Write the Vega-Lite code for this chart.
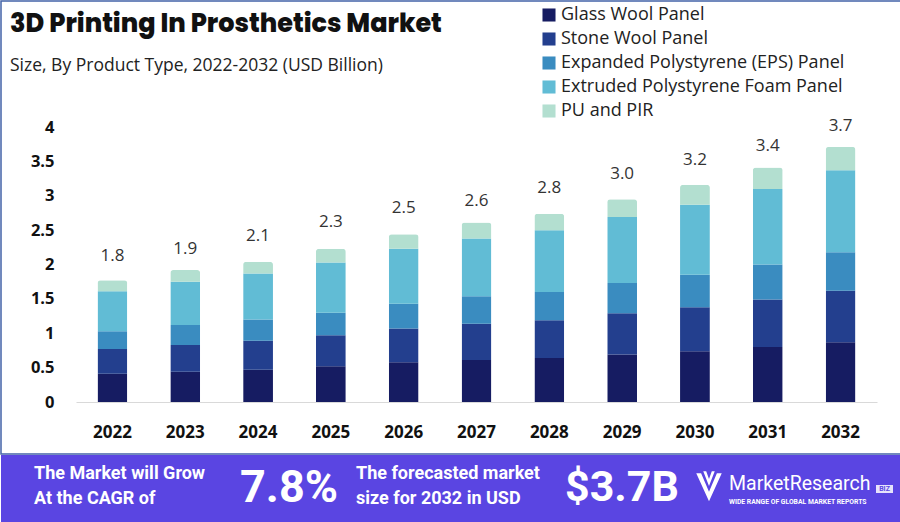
{
  "$schema": "https://vega.github.io/schema/vega-lite/v6.json",
  "padding": 0,
  "spacing": 0,
  "background": "white",
  "config": {"view": {"stroke": null}, "axis": {"grid": false}},
  "datasets": {
    "segments": [
      {"year": "2022", "type": "Glass Wool Panel", "value": 0.41},
      {"year": "2022", "type": "Stone Wool Panel", "value": 0.36},
      {"year": "2022", "type": "Expanded Polystyrene (EPS) Panel", "value": 0.26},
      {"year": "2022", "type": "Extruded Polystyrene Foam Panel", "value": 0.58},
      {"year": "2022", "type": "PU and PIR", "value": 0.16},
      {"year": "2023", "type": "Glass Wool Panel", "value": 0.44},
      {"year": "2023", "type": "Stone Wool Panel", "value": 0.39},
      {"year": "2023", "type": "Expanded Polystyrene (EPS) Panel", "value": 0.29},
      {"year": "2023", "type": "Extruded Polystyrene Foam Panel", "value": 0.63},
      {"year": "2023", "type": "PU and PIR", "value": 0.17},
      {"year": "2024", "type": "Glass Wool Panel", "value": 0.47},
      {"year": "2024", "type": "Stone Wool Panel", "value": 0.42},
      {"year": "2024", "type": "Expanded Polystyrene (EPS) Panel", "value": 0.31},
      {"year": "2024", "type": "Extruded Polystyrene Foam Panel", "value": 0.67},
      {"year": "2024", "type": "PU and PIR", "value": 0.17},
      {"year": "2025", "type": "Glass Wool Panel", "value": 0.52},
      {"year": "2025", "type": "Stone Wool Panel", "value": 0.45},
      {"year": "2025", "type": "Expanded Polystyrene (EPS) Panel", "value": 0.33},
      {"year": "2025", "type": "Extruded Polystyrene Foam Panel", "value": 0.73},
      {"year": "2025", "type": "PU and PIR", "value": 0.20},
      {"year": "2026", "type": "Glass Wool Panel", "value": 0.58},
      {"year": "2026", "type": "Stone Wool Panel", "value": 0.49},
      {"year": "2026", "type": "Expanded Polystyrene (EPS) Panel", "value": 0.36},
      {"year": "2026", "type": "Extruded Polystyrene Foam Panel", "value": 0.80},
      {"year": "2026", "type": "PU and PIR", "value": 0.21},
      {"year": "2027", "type": "Glass Wool Panel", "value": 0.61},
      {"year": "2027", "type": "Stone Wool Panel", "value": 0.53},
      {"year": "2027", "type": "Expanded Polystyrene (EPS) Panel", "value": 0.40},
      {"year": "2027", "type": "Extruded Polystyrene Foam Panel", "value": 0.84},
      {"year": "2027", "type": "PU and PIR", "value": 0.23},
      {"year": "2028", "type": "Glass Wool Panel", "value": 0.64},
      {"year": "2028", "type": "Stone Wool Panel", "value": 0.55},
      {"year": "2028", "type": "Expanded Polystyrene (EPS) Panel", "value": 0.41},
      {"year": "2028", "type": "Extruded Polystyrene Foam Panel", "value": 0.90},
      {"year": "2028", "type": "PU and PIR", "value": 0.24},
      {"year": "2029", "type": "Glass Wool Panel", "value": 0.69},
      {"year": "2029", "type": "Stone Wool Panel", "value": 0.60},
      {"year": "2029", "type": "Expanded Polystyrene (EPS) Panel", "value": 0.44},
      {"year": "2029", "type": "Extruded Polystyrene Foam Panel", "value": 0.96},
      {"year": "2029", "type": "PU and PIR", "value": 0.26},
      {"year": "2030", "type": "Glass Wool Panel", "value": 0.74},
      {"year": "2030", "type": "Stone Wool Panel", "value": 0.64},
      {"year": "2030", "type": "Expanded Polystyrene (EPS) Panel", "value": 0.47},
      {"year": "2030", "type": "Extruded Polystyrene Foam Panel", "value": 1.02},
      {"year": "2030", "type": "PU and PIR", "value": 0.29},
      {"year": "2031", "type": "Glass Wool Panel", "value": 0.80},
      {"year": "2031", "type": "Stone Wool Panel", "value": 0.69},
      {"year": "2031", "type": "Expanded Polystyrene (EPS) Panel", "value": 0.51},
      {"year": "2031", "type": "Extruded Polystyrene Foam Panel", "value": 1.10},
      {"year": "2031", "type": "PU and PIR", "value": 0.31},
      {"year": "2032", "type": "Glass Wool Panel", "value": 0.87},
      {"year": "2032", "type": "Stone Wool Panel", "value": 0.75},
      {"year": "2032", "type": "Expanded Polystyrene (EPS) Panel", "value": 0.56},
      {"year": "2032", "type": "Extruded Polystyrene Foam Panel", "value": 1.19},
      {"year": "2032", "type": "PU and PIR", "value": 0.34}
    ],
    "totals": [
      {"year": "2022", "total": 1.8, "label": "1.8"},
      {"year": "2023", "total": 1.9, "label": "1.9"},
      {"year": "2024", "total": 2.1, "label": "2.1"},
      {"year": "2025", "total": 2.3, "label": "2.3"},
      {"year": "2026", "total": 2.5, "label": "2.5"},
      {"year": "2027", "total": 2.6, "label": "2.6"},
      {"year": "2028", "total": 2.8, "label": "2.8"},
      {"year": "2029", "total": 3.0, "label": "3.0"},
      {"year": "2030", "total": 3.2, "label": "3.2"},
      {"year": "2031", "total": 3.4, "label": "3.4"},
      {"year": "2032", "total": 3.7, "label": "3.7"}
    ]
  },
  "vconcat": [
    {
      "width": 900,
      "height": 453,
      "view": {"stroke": "#4363a8", "strokeWidth": 1.5, "fill": "white"},
      "title": {
        "text": "3D Printing In Prosthetics Market",
        "subtitle": "Size, By Product Type, 2022-2032 (USD Billion)",
        "anchor": "start",
        "frame": "group",
        "offset": -73,
        "dx": 9,
        "font": "Poppins, Open Sans",
        "fontSize": 25.5,
        "fontWeight": 800,
        "color": "#111111",
        "subtitleFont": "Open Sans",
        "subtitleFontSize": 17.5,
        "subtitleColor": "#222222",
        "subtitlePadding": 19
      },
      "layer": [
        {
          "data": {"name": "segments"},
          "transform": [
            {"calculate": "indexof(['Glass Wool Panel','Stone Wool Panel','Expanded Polystyrene (EPS) Panel','Extruded Polystyrene Foam Panel','PU and PIR'], datum.type)", "as": "ord"}
          ],
          "mark": {"type": "bar", "cornerRadiusEnd": 3},
          "encoding": {
            "x": {
              "field": "year", "type": "nominal",
              "scale": {"range": [75, 876], "paddingInner": 0.59, "paddingOuter": 0.295},
              "axis": {
                "title": null, "orient": "bottom", "offset": -52, "labelAngle": 0,
                "domainColor": "#d9d9d9", "domainWidth": 1, "ticks": false,
                "labelPadding": 22, "labelFont": "Open Sans", "labelFontSize": 17,
                "labelFontWeight": "bold", "labelColor": "#111111"
              }
            },
            "y": {
              "field": "value", "type": "quantitative", "aggregate": "sum", "stack": "zero",
              "scale": {"domain": [0, 4], "range": [401, 126], "nice": false, "zero": false},
              "axis": {
                "title": null, "values": [0, 0.5, 1, 1.5, 2, 2.5, 3, 3.5, 4],
                "labelExpr": "'' + datum.value", "ticks": false, "domain": false,
                "labelPadding": -53, "labelFont": "Open Sans", "labelFontSize": 16.5,
                "labelFontWeight": "bold", "labelColor": "#111111"
              }
            },
            "color": {
              "field": "type", "type": "nominal",
              "scale": {
                "domain": ["Glass Wool Panel", "Stone Wool Panel", "Expanded Polystyrene (EPS) Panel", "Extruded Polystyrene Foam Panel", "PU and PIR"],
                "range": ["#161c62", "#233f8e", "#3a8cc0", "#61bcd5", "#b3dfd0"]
              },
              "legend": {
                "orient": "none", "legendX": 539, "legendY": 5, "direction": "vertical",
                "title": null, "symbolType": "square", "symbolSize": 170, "symbolStrokeWidth": 0,
                "labelFont": "Open Sans", "labelFontSize": 18, "labelColor": "#222222",
                "labelLimit": 400, "rowPadding": 6, "labelOffset": 3, "padding": 0
              }
            },
            "order": {"field": "ord", "type": "quantitative", "sort": "ascending"}
          }
        },
        {
          "data": {"name": "totals"},
          "mark": {"type": "text", "dy": -22, "baseline": "middle", "font": "Open Sans", "fontSize": 17, "color": "#333333"},
          "encoding": {
            "x": {"field": "year", "type": "nominal"},
            "y": {"field": "total", "type": "quantitative"},
            "text": {"field": "label"}
          }
        }
      ]
    },
    {
      "width": 900,
      "height": 69,
      "view": {"fill": "#5a45e2", "stroke": null},
      "data": {"values": [{}]},
      "layer": [
        {
          "mark": {"type": "text", "text": "The Market will Grow", "align": "left", "baseline": "middle", "font": "Roboto", "fontWeight": "bold", "fontSize": 18, "color": "white"},
          "encoding": {
            "x": {"datum": 33, "type": "quantitative", "scale": {"domain": [0, 900], "nice": false, "zero": false}, "axis": null},
            "y": {"datum": 19, "type": "quantitative", "scale": {"domain": [0, 69], "nice": false, "zero": false, "reverse": true}, "axis": null}
          }
        },
        {
          "mark": {"type": "text", "text": "At the CAGR of", "align": "left", "baseline": "middle", "font": "Roboto", "fontWeight": "bold", "fontSize": 18, "color": "white"},
          "encoding": {
            "x": {"datum": 33, "type": "quantitative"},
            "y": {"datum": 44, "type": "quantitative"}
          }
        },
        {
          "mark": {"type": "text", "text": "7.8%", "align": "center", "baseline": "middle", "font": "Roboto", "fontWeight": "bold", "fontSize": 45, "color": "white"},
          "encoding": {
            "x": {"datum": 288, "type": "quantitative"},
            "y": {"datum": 33, "type": "quantitative"}
          }
        },
        {
          "mark": {"type": "text", "text": "The forecasted market", "align": "left", "baseline": "middle", "font": "Roboto", "fontWeight": "bold", "fontSize": 18, "color": "white"},
          "encoding": {
            "x": {"datum": 355, "type": "quantitative"},
            "y": {"datum": 19, "type": "quantitative"}
          }
        },
        {
          "mark": {"type": "text", "text": "size for 2032 in USD", "align": "left", "baseline": "middle", "font": "Roboto", "fontWeight": "bold", "fontSize": 18, "color": "white"},
          "encoding": {
            "x": {"datum": 355, "type": "quantitative"},
            "y": {"datum": 44, "type": "quantitative"}
          }
        },
        {
          "mark": {"type": "text", "text": "$3.7B", "align": "center", "baseline": "middle", "font": "Roboto", "fontWeight": "bold", "fontSize": 43, "color": "white"},
          "encoding": {
            "x": {"datum": 621, "type": "quantitative"},
            "y": {"datum": 33, "type": "quantitative"}
          }
        },
        {
          "mark": {"type": "point", "filled": true, "color": "white", "opacity": 1, "size": 650, "shape": "M-1,-1 L-0.62,-1 L0,0.45 L0.62,-1 L1,-1 L0,1.2 Z M-0.45,-1.15 L-0.22,-1.15 L0,-0.55 L0.22,-1.15 L0.45,-1.15 L0,0 Z"},
          "encoding": {
            "x": {"datum": 708, "type": "quantitative"},
            "y": {"datum": 31, "type": "quantitative"}
          }
        },
        {
          "mark": {"type": "text", "text": "MarketResearch", "align": "left", "baseline": "middle", "font": "Roboto", "fontSize": 19.5, "color": "white"},
          "encoding": {
            "x": {"datum": 728, "type": "quantitative"},
            "y": {"datum": 29, "type": "quantitative"}
          }
        },
        {
          "mark": {"type": "rect", "color": "white", "opacity": 0.85},
          "encoding": {
            "x": {"datum": 875, "type": "quantitative"},
            "x2": {"datum": 892},
            "y": {"datum": 30, "type": "quantitative"},
            "y2": {"datum": 38}
          }
        },
        {
          "mark": {"type": "text", "text": "BIZ", "align": "center", "baseline": "middle", "font": "Roboto", "fontWeight": "bold", "fontSize": 7, "color": "#5a45e2"},
          "encoding": {
            "x": {"datum": 883.5, "type": "quantitative"},
            "y": {"datum": 34, "type": "quantitative"}
          }
        },
        {
          "mark": {"type": "text", "text": "WIDE RANGE OF GLOBAL MARKET REPORTS", "align": "left", "baseline": "middle", "font": "Roboto", "fontWeight": "bold", "fontSize": 6.8, "color": "white"},
          "encoding": {
            "x": {"datum": 728, "type": "quantitative"},
            "y": {"datum": 47, "type": "quantitative"}
          }
        }
      ]
    }
  ]
}
